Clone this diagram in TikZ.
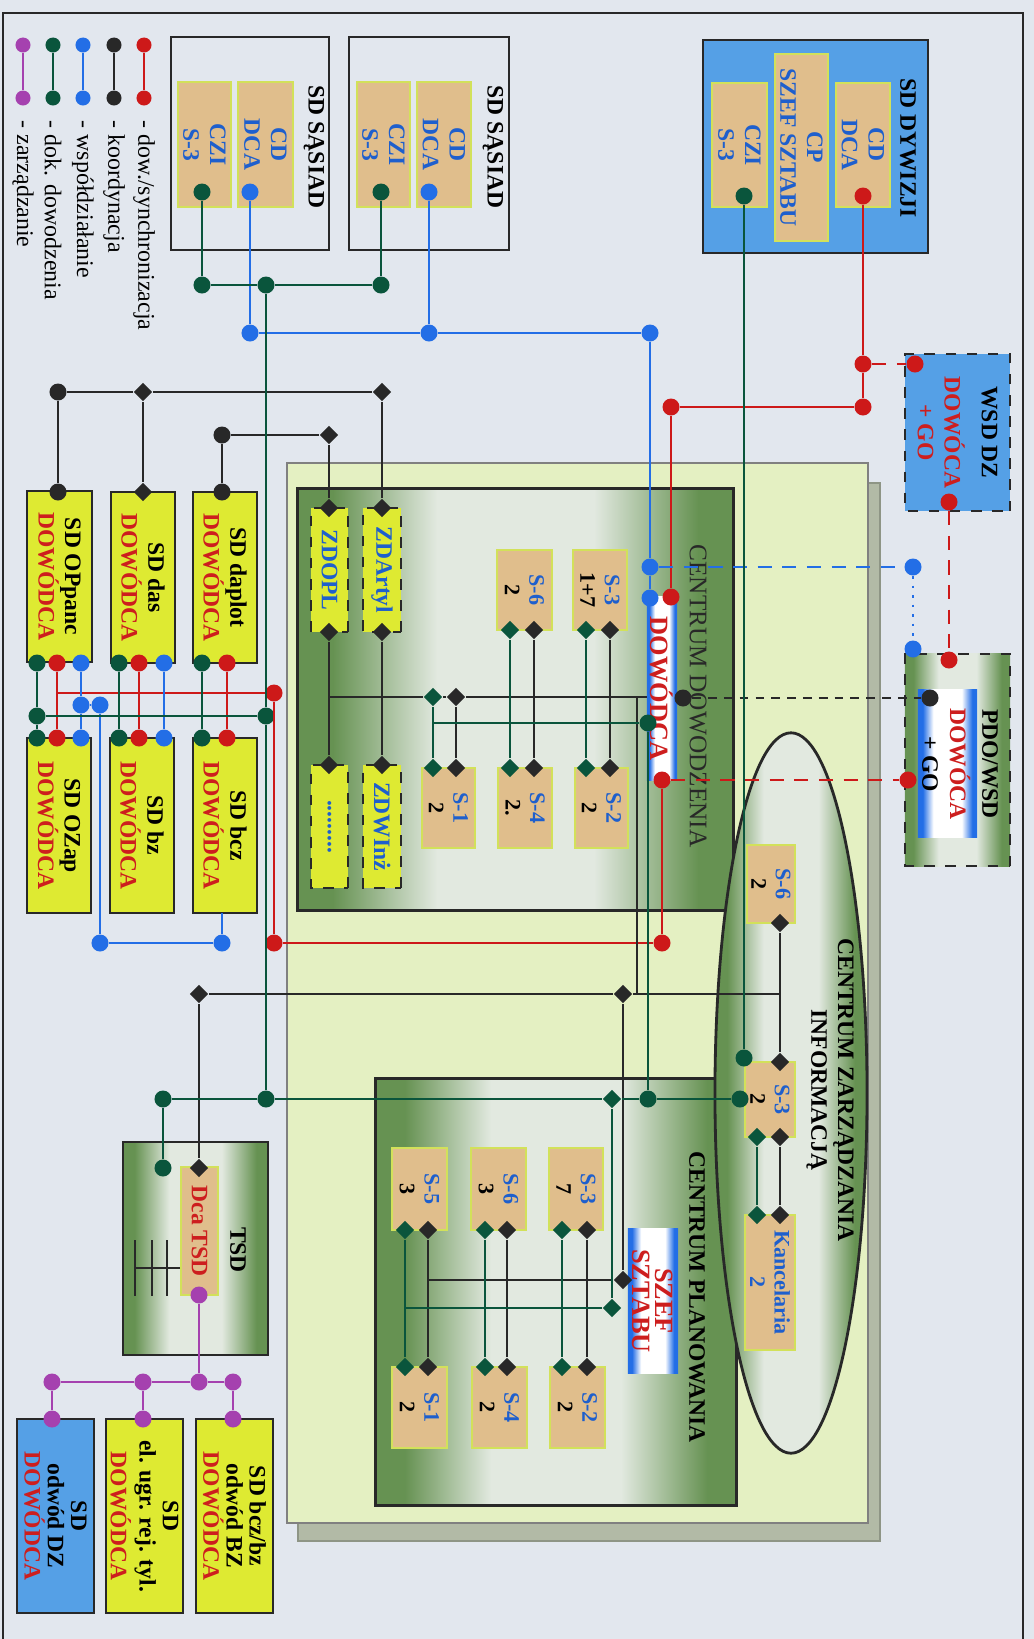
\documentclass[tikz,border=0pt]{standalone}
\usepackage{fontspec}
\setmainfont{Liberation Serif}
\usepackage{tikz}
\usetikzlibrary{shapes.geometric}
\tikzset{every node/.append style={align=center}}
\definecolor{paper}{RGB}{226,231,238}
\definecolor{lred}{RGB}{205,25,25}
\definecolor{lblue}{RGB}{35,110,230}
\definecolor{lgreen}{RGB}{10,85,60}
\definecolor{lblack}{RGB}{40,40,40}
\definecolor{lpurple}{RGB}{165,65,175}
\definecolor{tanfill}{RGB}{224,190,140}
\definecolor{tanedge}{RGB}{210,225,90}
\definecolor{ylwfill}{RGB}{222,234,50}
\definecolor{divblue}{RGB}{85,160,230}
\definecolor{panelcol}{RGB}{228,240,194}
\definecolor{shadowcol}{RGB}{178,186,166}
\definecolor{darkgrn}{RGB}{102,146,82}
\definecolor{grnmid}{RGB}{226,233,224}
\definecolor{txtblue}{RGB}{30,95,205}
\definecolor{txtred}{RGB}{205,30,30}
\pgfdeclarehorizontalshading{grnband}{100bp}{color(0bp)=(darkgrn); color(25bp)=(darkgrn); color(29bp)=(darkgrn);
  color(41bp)=(grnmid); color(59bp)=(grnmid); color(71bp)=(darkgrn); color(75bp)=(darkgrn); color(100bp)=(darkgrn)}
\pgfdeclarehorizontalshading{bluband}{100bp}{color(0bp)=(lblue); color(25bp)=(lblue); color(29bp)=(lblue);
  color(38bp)=(white); color(62bp)=(white); color(71bp)=(lblue); color(75bp)=(lblue); color(100bp)=(lblue)}

\begin{document}
\begin{tikzpicture}[x=0.01cm, y=-0.01cm,
  font=\fontsize{6.7}{7.6}\selectfont\bfseries,
  every node/.append style={rotate=-90, inner sep=0pt},
  sdbox/.style={draw=lblack, line width=0.6pt},
  tanbox/.style={draw=tanedge, fill=tanfill, line width=0.6pt, text=txtblue},
  ylwbox/.style={draw=lblack, fill=ylwfill, line width=0.6pt},
  zdbox/.style={draw=lblack, dashed, fill=ylwfill, line width=0.6pt, text=txtblue},
  grnshade/.style={shading=grnband},
  blushade/.style={shading=bluband},
  slab/.style={font=\fontsize{6.3}{7}\selectfont\bfseries},
  legtxt/.style={anchor=west, font=\fontsize{6.8}{8}\selectfont\mdseries},
  rdot/.style={circle, fill=lred, minimum size=0.17cm},
  bdot/.style={circle, fill=lblue, minimum size=0.17cm},
  gdot/.style={circle, fill=lgreen, minimum size=0.17cm},
  kdot/.style={circle, fill=lblack, minimum size=0.17cm},
  pdot/.style={circle, fill=lpurple, minimum size=0.17cm},
  kdia/.style={diamond, fill=lblack, minimum size=0.19cm},
  gdia/.style={diamond, fill=lgreen, minimum size=0.19cm},
  rline/.style={draw=lred, line width=0.7pt},
  bline/.style={draw=lblue, line width=0.7pt},
  gline/.style={draw=lgreen, line width=0.7pt},
  kline/.style={draw=lblack, line width=0.7pt},
  pline/.style={draw=lpurple, line width=0.7pt},
  rdash/.style={rline, dash pattern=on 4pt off 3pt},
  bdash/.style={bline, dash pattern=on 4pt off 3pt},
  kdash/.style={kline, dash pattern=on 2.5pt off 2pt}]

  \useasboundingbox (0,0) rectangle (1034,1639);
  \fill[paper] (0,0) rectangle (1034,1639);
  \draw[lblack, line width=0.6pt] (3,1650) -- (3,13) -- (1023,13) -- (1023,1650);

  % === LEGEND ===
  \node[rdot, minimum size=0.15cm] (lgR1) at (144,45) {};
  \node[rdot, minimum size=0.15cm] (lgR2) at (144,98) {};
  \node[kdot, minimum size=0.15cm] (lgK1) at (114,45) {};
  \node[kdot, minimum size=0.15cm] (lgK2) at (114,98) {};
  \node[bdot, minimum size=0.15cm] (lgB1) at (83,45) {};
  \node[bdot, minimum size=0.15cm] (lgB2) at (83,98) {};
  \node[gdot, minimum size=0.15cm] (lgG1) at (53,45) {};
  \node[gdot, minimum size=0.15cm] (lgG2) at (53,98) {};
  \node[pdot, minimum size=0.15cm] (lgP1) at (23,45) {};
  \node[pdot, minimum size=0.15cm] (lgP2) at (23,98) {};
  \draw[rline] (lgR1) -- (lgR2);
  \draw[kline] (lgK1) -- (lgK2);
  \draw[bline] (lgB1) -- (lgB2);
  \draw[gline] (lgG1) -- (lgG2);
  \draw[pline] (lgP1) -- (lgP2);
  \node[legtxt] (lgRt) at (144,120) {- dow./synchronizacja};
  \node[legtxt] (lgKt) at (114,120) {- koordynacja};
  \node[legtxt] (lgBt) at (83,120) {- współdziałanie};
  \node[legtxt] (lgGt) at (53,120) {- dok. dowodzenia};
  \node[legtxt] (lgPt) at (23,120) {- zarządzanie};

  % === SD SASIAD ===
  \node[sdbox, minimum width=2.13cm, minimum height=1.60cm] (sasA) at (429,143.5) {};
  \node (sasAt) at (493,147) {SD SĄSIAD};
  \node[tanbox, minimum width=1.25cm, minimum height=0.54cm] (sasAcd) at (444,144.5) {CD\\DCA};
  \node[tanbox, minimum width=1.25cm, minimum height=0.53cm] (sasAczi) at (383.5,144.5) {CZI\\S-3};
  \node[sdbox, minimum width=2.13cm, minimum height=1.58cm] (sasB) at (250,143.5) {};
  \node (sasBt) at (314,147) {SD SĄSIAD};
  \node[tanbox, minimum width=1.25cm, minimum height=0.55cm] (sasBcd) at (265.5,144.5) {CD\\DCA};
  \node[tanbox, minimum width=1.25cm, minimum height=0.53cm] (sasBczi) at (204.5,144.5) {CZI\\S-3};

  % === SD DYWIZJI / WSD DZ ===
  \node[draw=lblack, fill=divblue, line width=0.8pt, minimum width=2.13cm, minimum height=2.25cm] (sdDyw) at (815.5,146.5) {};
  \node (dywT) at (908,148) {SD DYWIZJI};
  \node[tanbox, minimum width=1.24cm, minimum height=0.54cm] (dywCD) at (863,145) {CD\\DCA};
  \node[tanbox, minimum width=1.87cm, minimum height=0.53cm] (dywCP) at (801.5,147.5) {CP\\SZEF SZTABU};
  \node[tanbox, minimum width=1.24cm, minimum height=0.55cm] (dywCZI) at (739.5,145) {CZI\\S-3};
  \node[draw=lblack, dashed, fill=divblue, line width=0.7pt, minimum width=1.57cm, minimum height=1.05cm] (wsd) at (957.5,432.5)
    {WSD DZ\\[3pt]\textcolor{txtred}{DOWÓCA}\\\textcolor{txtred}{+ GO}};

  % === PDO/WSD ===
  \node[draw=lblack, dashed, grnshade, line width=0.7pt, minimum width=2.12cm, minimum height=1.05cm] (pdo) at (957.5,760) {};
  \node[blushade, minimum width=1.47cm, minimum height=0.59cm] (pdoIn) at (947.5,763.5) {};
  \node (pdoT) at (990,764) {PDO/WSD};
  \node[text=txtred] (pdoD) at (960,764) {DOWÓCA};
  \node (pdoG) at (930,764) {+ GO};

  % === panel with shadow ===
  \filldraw[fill=shadowcol, draw=shadowcol!80!black, line width=0.4pt] (298,483) rectangle (880,1541);
  \filldraw[fill=panelcol, draw=gray, line width=0.4pt] (287,463) rectangle (868,1523);

  % === CENTRUM DOWODZENIA ===
  \node[draw=lblack, line width=0.8pt, grnshade, minimum width=4.21cm, minimum height=4.35cm] (cdow) at (515.5,699.5) {};
  \node[font=\fontsize{7.2}{8}\selectfont, text=lblack] (cdowT) at (698,696) {CENTRUM DOWODZENIA};
  \node[blushade, minimum width=1.83cm, minimum height=0.30cm, text=txtred, font=\fontsize{7.5}{8}\selectfont\bfseries] (cdDca) at (662,688.5) {DOWÓDCA};
  \node[tanbox, slab, minimum width=0.80cm, minimum height=0.54cm] (s3a) at (600,590) {S-3\\\textcolor{black}{1+7}};
  \node[tanbox, slab, minimum width=0.80cm, minimum height=0.55cm] (s6a) at (524.5,590) {S-6\\\textcolor{black}{2}};
  \node[tanbox, slab, minimum width=0.80cm, minimum height=0.53cm] (s1a) at (448.5,808) {S-1\\\textcolor{black}{2}};
  \node[tanbox, slab, minimum width=0.80cm, minimum height=0.54cm] (s4a) at (525,808) {S-4\\\textcolor{black}{2.}};
  \node[tanbox, slab, minimum width=0.80cm, minimum height=0.53cm] (s2a) at (601.5,808) {S-2\\\textcolor{black}{2}};
  \node[zdbox, minimum width=1.24cm, minimum height=0.38cm] (zdArt) at (382,570) {ZDArtyl};
  \node[zdbox, minimum width=1.24cm, minimum height=0.37cm] (zdOpl) at (329.5,570) {ZDOPL};
  \node[zdbox, minimum width=1.23cm, minimum height=0.38cm] (zdInz) at (382,826.5) {ZDWInż};
  \node[zdbox, minimum width=1.23cm, minimum height=0.37cm] (zdDots) at (329.5,826.5) {.........};

  % === SD units (left) ===
  \node[ylwbox, minimum width=1.71cm, minimum height=0.65cm] (sdOpp) at (59.5,576.5) {SD OPpanc\\\textcolor{txtred}{DOWÓDCA}};
  \node[ylwbox, minimum width=1.71cm, minimum height=0.64cm] (sdDas) at (143,577.5) {SD das\\\textcolor{txtred}{DOWÓDCA}};
  \node[ylwbox, minimum width=1.71cm, minimum height=0.64cm] (sdDapl) at (225,577.5) {SD daplot\\\textcolor{txtred}{DOWÓDCA}};
  \node[ylwbox, minimum width=1.75cm, minimum height=0.64cm] (sdOzap) at (59,825.5) {SD OZap\\\textcolor{txtred}{DOWÓDCA}};
  \node[ylwbox, minimum width=1.75cm, minimum height=0.64cm] (sdBz) at (142,825.5) {SD bz\\\textcolor{txtred}{DOWÓDCA}};
  \node[ylwbox, minimum width=1.75cm, minimum height=0.64cm] (sdBcz) at (225,825.5) {SD bcz\\\textcolor{txtred}{DOWÓDCA}};

  % === TSD ===
  \node[draw=lblack, line width=0.8pt, grnshade, minimum width=2.13cm, minimum height=1.45cm] (tsd) at (195.5,1248.5) {};
  \node (tsdT) at (238,1250) {TSD};
  \node[tanbox, minimum width=1.28cm, minimum height=0.37cm, text=txtred] (dcaTsd) at (199.5,1231) {Dca TSD};
  \draw[kline] (180,1268) -- (135,1268);
  \draw[kline] (135,1240) -- (135,1296);
  \draw[kline] (152,1240) -- (152,1296);
  \draw[kline] (167,1240) -- (167,1296);

  % === SD rear units (bottom) ===
  \node[draw=lblack, fill=divblue, line width=0.7pt, minimum width=1.94cm, minimum height=0.77cm, font=\fontsize{6.7}{6.6}\selectfont\bfseries] (sdOdw) at (55.5,1516)
    {SD\\odwód DZ\\\textcolor{txtred}{DOWÓDCA}};
  \node[ylwbox, minimum width=1.94cm, minimum height=0.77cm, font=\fontsize{6.7}{6.6}\selectfont\bfseries] (sdUgr) at (144.5,1516)
    {SD\\el. ugr. rej. tyl.\\\textcolor{txtred}{DOWÓDCA}};
  \node[ylwbox, minimum width=1.94cm, minimum height=0.77cm, font=\fontsize{6.7}{6.6}\selectfont\bfseries] (sdBzOdw) at (234.5,1516)
    {SD bcz/bz\\odwód BZ\\\textcolor{txtred}{DOWÓDCA}};

  % === CENTRUM PLANOWANIA ===
  \node[draw=lblack, line width=0.8pt, grnshade, minimum width=4.26cm, minimum height=3.60cm] (cplan) at (556,1292) {};
  \node (cplanT) at (697,1297) {CENTRUM PLANOWANIA};
  \node[tanbox, slab, minimum width=0.82cm, minimum height=0.54cm] (s3b) at (576,1189) {S-3\\\textcolor{black}{7}};
  \node[tanbox, slab, minimum width=0.82cm, minimum height=0.55cm] (s6b) at (498.5,1189) {S-6\\\textcolor{black}{3}};
  \node[tanbox, slab, minimum width=0.82cm, minimum height=0.55cm] (s5b) at (419.5,1189) {S-5\\\textcolor{black}{3}};
  \node[tanbox, slab, minimum width=0.81cm, minimum height=0.55cm] (s2b) at (577.5,1407.5) {S-2\\\textcolor{black}{2}};
  \node[tanbox, slab, minimum width=0.81cm, minimum height=0.55cm] (s4b) at (499.5,1407.5) {S-4\\\textcolor{black}{2}};
  \node[tanbox, slab, minimum width=0.81cm, minimum height=0.55cm] (s1b) at (419.5,1407.5) {S-1\\\textcolor{black}{2}};
  \node[blushade, minimum width=1.44cm, minimum height=0.50cm, text=txtred, font=\fontsize{7.5}{6.5}\selectfont\bfseries] (szef) at (653,1301) {SZEF\\SZTABU};

  % === CENTRUM ZARZADZANIA INFORMACJA ===
  \node[ellipse, draw=lblack, line width=0.8pt, grnshade, minimum width=7.20cm, minimum height=1.52cm] (czi) at (791,1093) {};
  \node (cziT) at (830,1090) {CENTRUM ZARZĄDZANIA\\INFORMACJĄ};
  \node[tanbox, slab, minimum width=0.78cm, minimum height=0.48cm] (s6c) at (771,884) {S-6\\\textcolor{black}{2}};
  \node[tanbox, slab, minimum width=0.75cm, minimum height=0.50cm] (s3c) at (770,1099.5) {S-3\\\textcolor{black}{2}};
  \node[tanbox, slab, minimum width=1.35cm, minimum height=0.50cm] (kanc) at (770,1282.5) {Kancelaria\\2};

  % === dots and diamonds ===
  % neighbours
  \node[bdot] (sasAb) at (429,192) {};
  \node[gdot] (sasAg) at (381,192) {};
  \node[bdot] (sasBb) at (250,192) {};
  \node[gdot] (sasBg) at (202,192) {};
  \node[gdot] (gj1) at (202,285) {};
  \node[gdot] (gj2) at (266,285) {};
  \node[gdot] (gj3) at (381,285) {};
  \node[bdot] (bj1) at (250,333) {};
  \node[bdot] (bj2) at (429,333) {};
  \node[bdot] (bj3) at (650,333) {};
  % division, WSD, PDO
  \node[rdot] (dywR) at (863,196) {};
  \node[gdot] (dywG) at (744,196) {};
  \node[rdot] (rj1) at (863,364) {};
  \node[rdot] (rj2) at (863,407) {};
  \node[rdot] (rj3) at (671,407) {};
  \node[rdot] (wsdR1) at (915,364) {};
  \node[rdot] (wsdR2) at (949,502) {};
  \node[rdot] (pdoR1) at (949,660) {};
  \node[bdot] (pdoB) at (913,649) {};
  \node[kdot] (pdoK) at (930,698) {};
  \node[rdot] (pdoR2) at (908,780) {};
  \node[bdot] (bj4) at (913,567) {};
  % commander
  \node[bdot] (dcaB1) at (650,567) {};
  \node[bdot] (dcaB2) at (650,598) {};
  \node[rdot] (dcaR1) at (671,597) {};
  \node[rdot] (dcaR2) at (662,780) {};
  \node[kdot] (dcaK) at (683,698) {};
  \node[gdot] (dcaG) at (648,723) {};
  % command centre
  \node[kdia] (artT) at (382,508) {};
  \node[kdia] (artB) at (382,632) {};
  \node[kdia] (inzT) at (382,765) {};
  \node[kdia] (oplT) at (329,508) {};
  \node[kdia] (oplB) at (329,632) {};
  \node[kdia] (dotsT) at (329,765) {};
  \node[gdia] (s3aG) at (586,630) {};
  \node[kdia] (s3aK) at (610,630) {};
  \node[gdia] (s2aG) at (586,768) {};
  \node[kdia] (s2aK) at (610,768) {};
  \node[gdia] (s6aG) at (510,630) {};
  \node[kdia] (s6aK) at (534,630) {};
  \node[gdia] (s4aG) at (510,768) {};
  \node[kdia] (s4aK) at (534,768) {};
  \node[gdia] (s1aG) at (433,768) {};
  \node[kdia] (s1aK) at (456,768) {};
  \node[gdia] (cdG) at (433,697) {};
  \node[kdia] (cdK) at (456,697) {};
  \coordinate (cdH1) at (329,697);
  \coordinate (cdH2) at (647,697);
  \coordinate (cdH3) at (637,697);
  \coordinate (cdGh) at (433,723);
  % SD units
  \node[kdot] (oppK) at (58,492) {};
  \node[kdia] (dasK) at (143,492) {};
  \node[kdot] (daplK) at (222,492) {};
  \node[kdot] (kj1) at (58,392) {};
  \node[kdia] (kj2) at (143,392) {};
  \node[kdia] (kj3) at (382,392) {};
  \node[kdot] (kj4) at (222,435) {};
  \node[kdia] (kj5) at (329,435) {};
  \node[gdot] (oppG) at (37,663) {};
  \node[rdot] (oppR) at (57,663) {};
  \node[bdot] (oppB) at (81,663) {};
  \node[gdot] (dasG) at (119,663) {};
  \node[rdot] (dasR) at (139,663) {};
  \node[bdot] (dasB) at (164,663) {};
  \node[gdot] (daplG) at (202,663) {};
  \node[rdot] (daplR) at (227,663) {};
  \node[gdot] (ozG) at (37,738) {};
  \node[rdot] (ozR) at (57,738) {};
  \node[bdot] (ozB) at (81,738) {};
  \node[gdot] (bzG) at (119,738) {};
  \node[rdot] (bzR) at (139,738) {};
  \node[bdot] (bzB) at (164,738) {};
  \node[gdot] (bczG) at (202,738) {};
  \node[rdot] (bczR) at (227,738) {};
  \node[gdot] (gj4) at (37,716) {};
  \node[gdot] (gj5) at (266,716) {};
  \node[bdot] (bj5) at (81,705) {};
  \node[bdot] (bj6) at (100,705) {};
  \node[bdot] (bj7) at (100,943) {};
  \node[bdot] (bj8) at (222,943) {};
  \node[rdot] (rj4) at (274,693) {};
  \node[rdot] (rj5) at (274,943) {};
  \node[rdot] (rj6) at (662,943) {};
  \coordinate (rc1) at (57,693);
  \coordinate (bczBot) at (222,913);
  % TSD and rear
  \node[kdia] (kd1) at (199,994) {};
  \node[kdia] (kd2) at (623,994) {};
  \coordinate (kc1) at (637,994);
  \coordinate (kc2) at (780,994);
  \node[kdia] (tsdK) at (199,1168) {};
  \node[gdot] (tsdG) at (163,1168) {};
  \node[gdot] (gj6) at (163,1099) {};
  \node[gdot] (gj7) at (266,1099) {};
  \node[gdia] (gd1) at (612,1099) {};
  \node[gdot] (gj8) at (648,1099) {};
  \node[gdot] (s3cG2) at (740,1099) {};
  \node[pdot] (tsdP) at (199,1295) {};
  \node[pdot] (pj1) at (199,1382) {};
  \node[pdot] (pj2) at (52,1382) {};
  \node[pdot] (pj3) at (143,1382) {};
  \node[pdot] (pj4) at (233,1382) {};
  \node[pdot] (pb1) at (52,1419) {};
  \node[pdot] (pb2) at (143,1419) {};
  \node[pdot] (pb3) at (233,1419) {};
  % planning centre
  \node[gdia] (s3bG) at (562,1230) {};
  \node[kdia] (s3bK) at (587,1230) {};
  \node[gdia] (s2bG) at (562,1367) {};
  \node[kdia] (s2bK) at (587,1367) {};
  \node[gdia] (s6bG) at (485,1230) {};
  \node[kdia] (s6bK) at (507,1230) {};
  \node[gdia] (s4bG) at (485,1367) {};
  \node[kdia] (s4bK) at (507,1367) {};
  \node[gdia] (s5bG) at (405,1230) {};
  \node[kdia] (s5bK) at (428,1230) {};
  \node[gdia] (s1bG) at (405,1367) {};
  \node[kdia] (s1bK) at (428,1367) {};
  \node[kdia] (kd3) at (623,1280) {};
  \node[gdia] (gd2) at (612,1308) {};
  \coordinate (kc3) at (428,1280);
  \coordinate (gc3) at (405,1308);
  % information centre
  \node[kdia] (s6cK) at (780,923) {};
  \node[kdia] (s3cK1) at (780,1062) {};
  \node[kdia] (s3cK2) at (780,1137) {};
  \node[gdia] (s3cG) at (757,1137) {};
  \node[gdot] (s3cG1) at (744,1058) {};
  \node[kdia] (kancK) at (780,1215) {};
  \node[gdia] (kancG) at (757,1215) {};

  % === connectors ===
  % dow./synchronizacja
  \draw[rline] (dywR) -- (rj1) -- (rj2) -- (rj3) -- (dcaR1);
  \draw[rline] (dcaR2) -- (rj6) -- (rj5) -- (rj4) -- (rc1);
  \draw[rline] (oppR) -- (ozR);
  \draw[rline] (dasR) -- (bzR);
  \draw[rline] (daplR) -- (bczR);
  \draw[rdash] (rj1) -- (wsdR1);
  \draw[rdash] (wsdR2) -- (pdoR1);
  \draw[rdash] (dcaR2) -- (pdoR2);
  % koordynacja
  \draw[kline] (kj1) -- (kj2) -- (kj3) -- (artT);
  \draw[kline] (kj1) -- (oppK);
  \draw[kline] (kj2) -- (dasK);
  \draw[kline] (kj4) -- (kj5) -- (oplT);
  \draw[kline] (kj4) -- (daplK);
  \draw[kline] (artB) -- (inzT);
  \draw[kline] (oplB) -- (dotsT);
  \draw[kline] (cdH1) -- (cdG) -- (cdK) -- (cdH2);
  \draw[kline] (cdK) -- (s1aK);
  \draw[kline] (s3aK) -- (s2aK);
  \draw[kline] (s6aK) -- (s4aK);
  \draw[kline] (cdH3) -- (kc1);
  \draw[kline] (kd1) -- (kd2) -- (kc1) -- (kc2);
  \draw[kline] (kd1) -- (tsdK);
  \draw[kline] (kd2) -- (kd3) -- (kc3);
  \draw[kline] (s6cK) -- (s3cK1);
  \draw[kline] (s3cK2) -- (kancK);
  \draw[kline] (s3bK) -- (s2bK);
  \draw[kline] (s6bK) -- (s4bK);
  \draw[kline] (s5bK) -- (s1bK);
  \draw[kdash] (dcaK) -- (pdoK);
  % wspoldzialanie
  \draw[bline] (sasBb) -- (bj1) -- (bj2) -- (bj3) -- (dcaB1) -- (dcaB2);
  \draw[bline] (sasAb) -- (bj2);
  \draw[bline] (oppB) -- (bj5) -- (ozB);
  \draw[bline] (bj5) -- (bj6) -- (bj7) -- (bj8) -- (bczBot);
  \draw[bline] (dasB) -- (bzB);
  \draw[bdash] (dcaB1) -- (bj4);
  \draw[bline, dotted] (bj4) -- (pdoB);
  % dok. dowodzenia
  \draw[gline] (sasBg) -- (gj1) -- (gj2) -- (gj3) -- (sasAg);
  \draw[gline] (gj2) -- (gj5) -- (gj7);
  \draw[gline] (gj6) -- (gj7) -- (gd1) -- (gj8) -- (s3cG2);
  \draw[gline] (gj6) -- (tsdG);
  \draw[gline] (dcaG) -- (gj8);
  \draw[gline] (gd1) -- (gd2) -- (gc3);
  \draw[gline] (dywG) -- (s3cG1);
  \draw[gline] (cdG) -- (s1aG);
  \draw[gline] (cdGh) -- (dcaG);
  \draw[gline] (s3aG) -- (s2aG);
  \draw[gline] (s6aG) -- (s4aG);
  \draw[gline] (s3bG) -- (s2bG);
  \draw[gline] (s6bG) -- (s4bG);
  \draw[gline] (s5bG) -- (s1bG);
  \draw[gline] (s3cG) -- (kancG);
  \draw[gline] (oppG) -- (gj4) -- (ozG);
  \draw[gline] (gj4) -- (gj5);
  \draw[gline] (dasG) -- (bzG);
  \draw[gline] (daplG) -- (bczG);
  % zarzadzanie
  \draw[pline] (tsdP) -- (pj1);
  \draw[pline] (pj2) -- (pj3) -- (pj1) -- (pj4);
  \draw[pline] (pj2) -- (pb1);
  \draw[pline] (pj3) -- (pb2);
  \draw[pline] (pj4) -- (pb3);

\end{tikzpicture}
\end{document}
